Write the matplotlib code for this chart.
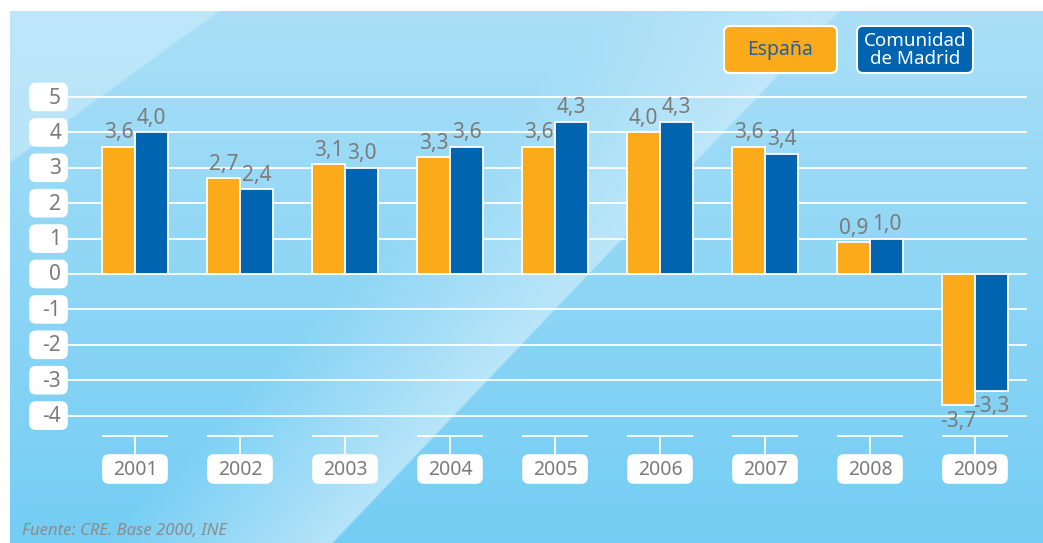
import numpy as np
import matplotlib
matplotlib.use("Agg")
import matplotlib.pyplot as plt
from matplotlib.patches import FancyBboxPatch
from matplotlib.colors import to_rgb

# data
years = ["2001", "2002", "2003", "2004", "2005", "2006", "2007", "2008", "2009"]
espana = [3.6, 2.7, 3.1, 3.3, 3.6, 4.0, 3.6, 0.9, -3.7]
madrid = [4.0, 2.4, 3.0, 3.6, 4.3, 4.3, 3.4, 1.0, -3.3]
yticks = [5, 4, 3, 2, 1, 0, -1, -2, -3, -4]

ORANGE = "#fbab1a"
BLUE = "#0064b1"
GREY = "#7b7b7b"

plt.rcParams['font.family'] = ['Noto Sans', 'DejaVu Sans']

W, H = 1043, 543
fig = plt.figure(figsize=(W / 100, H / 100), dpi=100)

# background axes in pixel coords (y down)
bg = fig.add_axes([0, 0, 1, 1])
bg.set_xlim(0, W)
bg.set_ylim(H, 0)
bg.axis('off')

# blue gradient panel with a light diagonal sheen
yy, xx = np.mgrid[11:H, 10:W].astype(float)
c_top = np.array(to_rgb("#a9dff7"))
c_bot = np.array(to_rgb("#74cdf4"))
t = ((yy - 11) / (H - 11))[..., None]
img = c_top * (1 - t) + c_bot * t
light = np.array(to_rgb("#c6eafa"))

# sheen: sharp lower-right edge through (330, 543), fading to the upper left
edge_x = 330 + (543 - yy) / 1.05
h = edge_x - xx                     # >0 left of the edge
sheen = np.where(h >= 0, np.clip(1 - h / 230, 0, 1), np.clip(1 + h / 3, 0, 1))
img = img * (1 - 0.8 * sheen[..., None]) + light * 0.8 * sheen[..., None]

# light top-left corner triangle
corner_edge = 220 - (yy - 11) * (210 / 152)
cmask = np.clip((corner_edge - xx) / 4, 0, 1)
img = img * (1 - 0.7 * cmask[..., None]) + light * 0.7 * cmask[..., None]

bg.imshow(img, extent=(10, W, H, 11), aspect='auto', interpolation='bilinear', zorder=0)


def rbox(ax, cx, cy, w, h, fc, ec="white", lw=1.2, r=6, z=3):
    p = FancyBboxPatch((cx - w / 2, cy - h / 2), w, h,
                       boxstyle=f"round,pad=0,rounding_size={r}",
                       fc=fc, ec=ec, lw=lw, zorder=z)
    ax.add_patch(p)


# data axes on top, aligned to pixels
ax = fig.add_axes([0, 0, 1, 1])
ax.patch.set_alpha(0)
x0, dx = 135, 105.0
y0, dy = 274, 35.4
ax.set_xlim(-x0 / dx, (W - x0) / dx)
ax.set_ylim(-(H - y0) / dy, y0 / dy)
ax.axis('off')

x = np.arange(len(years))
bw = 0.315
left_edge = (67 - x0) / dx
right_edge = (1027 - x0) / dx

ax.hlines(yticks, left_edge, right_edge, colors="white", lw=1.3, zorder=1)

ax.bar(x - bw / 2, espana, bw, color=ORANGE, edgecolor="white", lw=1.3, zorder=2)
ax.bar(x + bw / 2, madrid, bw, color=BLUE, edgecolor="white", lw=1.3, zorder=2)

for xi, e, m in zip(x, espana, madrid):
    for xpos, v in ((xi - bw / 2, e), (xi + bw / 2, m)):
        lab = f"{v:.1f}".replace(".", ",")
        if v >= 0:
            ax.annotate(lab, (xpos, v), xytext=(0, 2.5), textcoords="offset points",
                        ha="center", va="bottom", color=GREY, fontsize=15, zorder=4)
        else:
            ax.annotate(lab, (xpos, v), xytext=(0, -4), textcoords="offset points",
                        ha="center", va="top", color=GREY, fontsize=15, zorder=4)


def to_px(xd, yd):
    dxp, dyp = ax.transData.transform((xd, yd))
    return dxp, H - dyp


# y tick boxes
for v in yticks:
    _, py = to_px(0, v)
    rbox(bg, 48.5, py, 37, 27, "white", r=6)
    bg.text(61, py + 1, str(v), ha="right", va="center", color=GREY, fontsize=15, zorder=4)

# year brackets and boxes
yb_top = -(436 - y0) / dy
yb_bot = -(455 - y0) / dy
for xi, yr in zip(x, years):
    ax.hlines(yb_top, xi - 0.315, xi + 0.315, colors="white", lw=1.3)
    ax.vlines(xi, yb_bot, yb_top, colors="white", lw=1.3)
    px, _ = to_px(xi, 0)
    rbox(bg, px, 469, 64, 28, "white", r=6)
    bg.text(px, 470, yr, ha="center", va="center", color=GREY, fontsize=14, zorder=4)

# legend boxes
rbox(bg, 780.5, 49.5, 113, 47, ORANGE, lw=1.5, r=6)
bg.text(780.5, 50, "España", ha="center", va="center", color="#1f5fa6", fontsize=14, zorder=4)
rbox(bg, 915, 49.5, 116, 47, BLUE, lw=1.5, r=6)
bg.text(915, 50, "Comunidad\nde Madrid", ha="center", va="center", color="white",
        fontsize=13.5, linespacing=0.95, zorder=4)

bg.text(22, 531, "Fuente: CRE. Base 2000, INE", ha="left", va="center",
        color="#8c8c8c", fontsize=12, style="italic", zorder=4)

fig.savefig("out.png", dpi=100)
